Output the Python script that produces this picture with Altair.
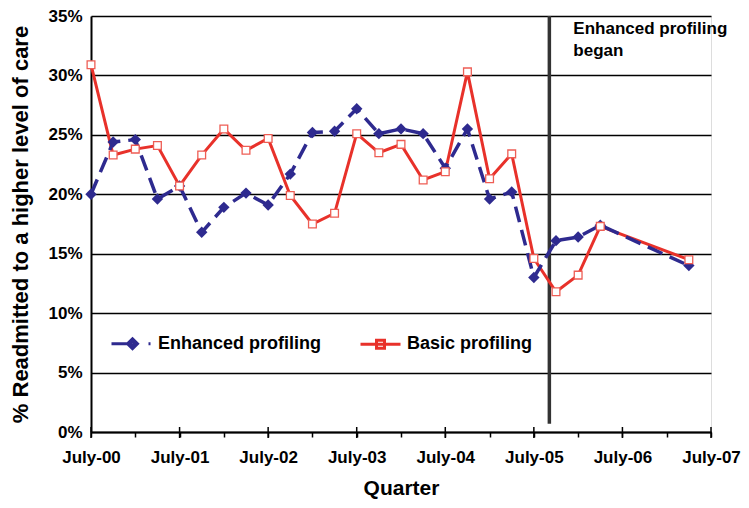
import altair as alt
import pandas as pd

# ---- data ----
series_names = ["Enhanced profiling", "Basic profiling"]
series_colors = ["#2E2A8F", "#E8312A"]

quarters = [0, 1, 2, 3, 4, 5, 6, 7, 8, 9, 10, 11, 12, 13, 14, 15, 16, 17, 18, 19, 20, 21, 22, 23, 27]
enhanced = [20.0, 24.4, 24.6, 19.6, 20.7, 16.8, 18.9, 20.1, 19.1, 21.7, 25.2, 25.3, 27.2, 25.1,
            25.5, 25.1, 22.2, 25.5, 19.6, 20.2, 13.0, 16.1, 16.4, 17.4, 14.0]
basic = [30.9, 23.3, 23.8, 24.1, 20.7, 23.3, 25.5, 23.7, 24.7, 19.9, 17.5, 18.4, 25.1, 23.5,
         24.2, 21.2, 21.9, 30.3, 21.3, 23.4, 14.6, 11.8, 13.2, 17.3, 14.5]

year_ticks = [0, 4, 8, 12, 16, 20, 24, 28]
year_labels = ["July-00", "July-01", "July-02", "July-03", "July-04", "July-05", "July-06", "July-07"]
quarter_ticks = list(range(0, 29))
y_ticks = [0, 0.05, 0.10, 0.15, 0.20, 0.25, 0.30, 0.35]

start_quarter = 20.7
annotation_lines = ["Enhanced profiling", "began"]

FONT = "Liberation Sans"
W = 620
H = 416

rows = []
for q, v in zip(quarters, enhanced):
    rows.append({"quarter": q, "rate": v / 100, "series": series_names[0]})
for q, v in zip(quarters, basic):
    rows.append({"quarter": q, "rate": v / 100, "series": series_names[1]})
df = pd.DataFrame(rows)

label_map = "{" + ",".join(f"'{t}':'{l}'" for t, l in zip(year_ticks, year_labels)) + "}"
label_expr = f"({label_map})[datum.value] || ''"

x_enc = alt.X(
    "quarter:Q",
    scale=alt.Scale(domain=[0, 28], nice=False, zero=False),
    axis=alt.Axis(
        values=quarter_ticks, labelExpr=label_expr, labelOverlap=False, labelBound=False,
        labelFlush=False,
        tickSize=5, tickWidth=1.5, tickColor="black", domainColor="black", domainWidth=2,
        labelFont=FONT, labelFontSize=17, labelFontWeight="bold", labelColor="black",
        labelPadding=12, grid=False, title="Quarter", titleFont=FONT, titleFontSize=21,
        titleFontWeight="bold", titleColor="black", titlePadding=12,
    ),
)
y_enc = alt.Y(
    "rate:Q",
    scale=alt.Scale(domain=[0, 0.35], nice=False, zero=True),
    axis=alt.Axis(
        values=y_ticks, format=".0%", grid=True, gridColor="black", gridWidth=1.5,
        tickSize=0, domainColor="black", domainWidth=2,
        labelFont=FONT, labelFontSize=17, labelFontWeight="bold", labelColor="black",
        labelPadding=9, title="% Readmitted to a higher level of care", titleFont=FONT,
        titleFontSize=22, titleFontWeight="bold", titleColor="black", titlePadding=15,
    ),
)

base = alt.Chart(df).encode(x=x_enc, y=y_enc)

line_basic = base.transform_filter(alt.datum.series == series_names[1]).mark_line(
    color=series_colors[1], strokeWidth=3)
line_enh = base.transform_filter(alt.datum.series == series_names[0]).mark_line(
    color=series_colors[0], strokeWidth=3.5, strokeDash=[16, 8])
pts_enh = base.transform_filter(alt.datum.series == series_names[0]).mark_point(
    shape="diamond", filled=True, size=130, color=series_colors[0], opacity=1)
pts_basic = base.transform_filter(alt.datum.series == series_names[1]).mark_point(
    shape="square", filled=True, size=60, fill="white", stroke="#EE5E55", strokeWidth=1.3, opacity=1)

# legend (library legend, custom symbols: line + marker)
legend_paths = [
    "M-1,0H0.05M0.05,-0.25L0.3,0L0.05,0.25L-0.2,0ZM0.05,-0.12L0.17,0L0.05,0.12L-0.07,0ZM0.85,0H0.95",
    "M-1,0H1M-0.2,-0.2H0.2V0.2H-0.2Z",
]
leg = alt.Legend(
    title=None, orient="none", legendX=19, legendY=306, direction="horizontal",
    labelFont=FONT, labelFontSize=18, labelFontWeight="bold", labelColor="black",
    labelOffset=5, labelLimit=400, columnPadding=32, padding=0, symbolSize=1600,
    symbolStrokeWidth=3,
)
legend_layer = alt.Chart(df).transform_filter("false").mark_point(
    filled=False, strokeWidth=3, size=1600, opacity=1).encode(
    x="quarter:Q", y="rate:Q",
    color=alt.Color("series:N", scale=alt.Scale(domain=series_names, range=series_colors), legend=leg),
    shape=alt.Shape("series:N", scale=alt.Scale(domain=series_names, range=legend_paths), legend=leg),
)

# major ticks crossing the x axis
major_ticks = alt.Chart(pd.DataFrame({"q": year_ticks})).mark_rule(
    color="black", strokeWidth=1.5).encode(x="q:Q", y=alt.value(H - 5), y2=alt.value(H + 6))

# start of enhanced profiling
ann_df = pd.DataFrame({"q": [start_quarter], "top": [0.35], "bottom": [0.007],
                       "label": [annotation_lines]})
vline = alt.Chart(ann_df).mark_rule(color="#333333", strokeWidth=3.5).encode(
    x="q:Q", y="top:Q", y2="bottom:Q")
ann_text = alt.Chart(ann_df).mark_text(
    align="left", baseline="alphabetic", dx=24, dy=18, font=FONT, fontSize=17,
    fontWeight="bold", color="black", lineHeight=22).encode(x="q:Q", y="top:Q", text="label")

chart = alt.layer(
    major_ticks, vline, line_basic, line_enh, pts_enh, pts_basic, ann_text, legend_layer
).properties(
    width=W, height=H,
    autosize=alt.AutoSizeParams(type="none"),
    padding={"left": 83, "top": 8, "right": 30, "bottom": 68},
).configure_view(stroke=None).configure(font=FONT)

chart.save("out.html", embed_options={"renderer": "svg", "actions": False})
